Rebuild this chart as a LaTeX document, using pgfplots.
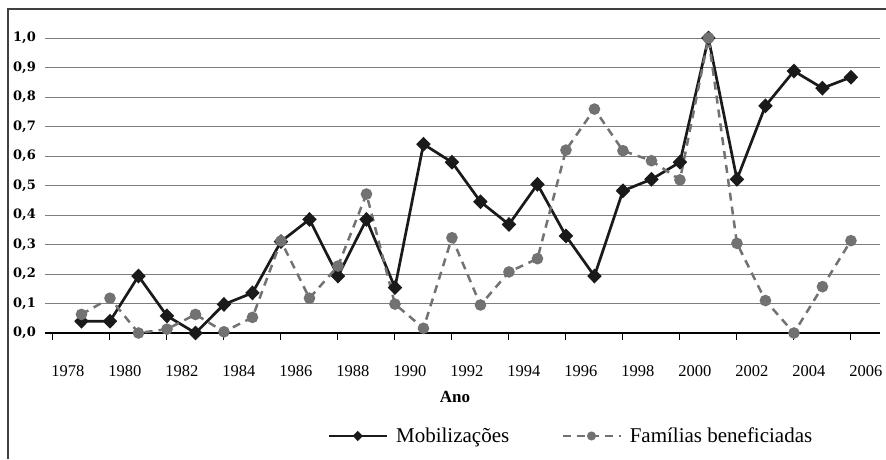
\documentclass[border=0pt]{standalone}
\usepackage{pgfplots}
\pgfplotsset{compat=1.18}
\usepackage{fontspec}
\setmainfont{Liberation Serif}
\newfontfamily\ylabfont{DejaVu Serif}
\definecolor{mobcol}{HTML}{1A1A1A}
\definecolor{famcol}{HTML}{727272}
\definecolor{gridcol}{HTML}{7E7E7E}
\definecolor{gridcoldark}{HTML}{303030}
\begin{document}
\begin{tikzpicture}[x=1pt,y=1pt]
\path[use as bounding box] (0,0) rectangle (886,459);
\draw[line width=1.3pt, black!75] (8,0) -- (8,450) -- (886,450);
\begin{axis}[
  at={(45pt,126pt)}, anchor=south west,
  scale only axis, width=835pt, height=295pt,
  xmin=1977.72, xmax=2007.02, ymin=0, ymax=1,
  clip=false,
  axis line style={draw=none},
  xtick={1978,1980,...,2006},
  xticklabels={1978,1980,1982,1984,1986,1988,1990,1992,1994,1996,1998,2000,2002,2004,2006},
  xtick pos=left, tick align=outside,
  xtick style={black, line width=1pt},
  major tick length=7pt,
  xticklabel style={font=\fontsize{16.5}{18}\selectfont, inner sep=0pt, anchor=north, xshift=15pt, yshift=-25pt},
  ytick={0,0.1,...,1.01},
  yticklabels={{0,0},{0,1},{0,2},{0,3},{0,4},{0,5},{0,6},{0,7},{0,8},{0,9},{1,0}},
  minor ytick={0.2,0.4,0.6,0.8,1.0},
  ytick style={draw=none},
  minor y tick style={draw=none},
  yticklabel style={font=\ylabfont\bfseries\fontsize{13}{15}\selectfont, inner sep=0pt, anchor=east, xshift=-2pt},
  ymajorgrids, grid style={gridcol, line width=1pt},
  yminorgrids, minor grid style={gridcoldark, line width=1pt},
  extra y ticks={0}, extra y tick labels={},
  extra y tick style={grid style={black, line width=2.2pt}},
  legend style={at={(axis description cs:0.338,-0.349)}, anchor=west, draw=none, fill=none,
    inner sep=0pt, font=\fontsize{21}{24}\selectfont, legend columns=2,
    nodes={inner xsep=8pt},
    /tikz/every even column/.append style={column sep=44pt}},
  legend image code/.code={\draw[mark repeat=2,mark phase=2,#1] plot coordinates {(0pt,0pt) (29pt,0pt) (58pt,0pt)};},
  legend image post style={mark size=3.2pt},
]
\addplot[mobcol, line width=2.7pt, mark=diamond*, mark size=5.5pt, mark options={solid, fill=mobcol, xscale=1.3}] coordinates {
(1979,0.04) (1980,0.04) (1981,0.193) (1982,0.058) (1983,0.0) (1984,0.097) (1985,0.136)
(1986,0.31) (1987,0.385) (1988,0.193) (1989,0.385) (1990,0.154) (1991,0.64) (1992,0.579)
(1993,0.445) (1994,0.368) (1995,0.504) (1996,0.329) (1997,0.193) (1998,0.482) (1999,0.521)
(2000,0.579) (2001,1.0) (2002,0.521) (2003,0.77) (2004,0.888) (2005,0.83) (2006,0.867)};
\addlegendentry{Mobilizações}
\addplot[famcol, line width=2.5pt, dash pattern=on 8pt off 6pt, mark=*, mark size=4.5pt, mark options={solid, fill=famcol}] coordinates {
(1979,0.063) (1980,0.118) (1981,0.0) (1982,0.013) (1983,0.063) (1984,0.004) (1985,0.053)
(1986,0.312) (1987,0.118) (1988,0.227) (1989,0.471) (1990,0.098) (1991,0.016) (1992,0.323)
(1993,0.095) (1994,0.207) (1995,0.252) (1996,0.62) (1997,0.759) (1998,0.618) (1999,0.584)
(2000,0.519) (2001,1.0) (2002,0.304) (2003,0.11) (2004,0.0) (2005,0.157) (2006,0.313)};
\addlegendentry{Famílias beneficiadas}
\end{axis}
\node[font=\bfseries\fontsize{17}{19}\selectfont] at (455,62) {Ano};
\end{tikzpicture}
\end{document}
